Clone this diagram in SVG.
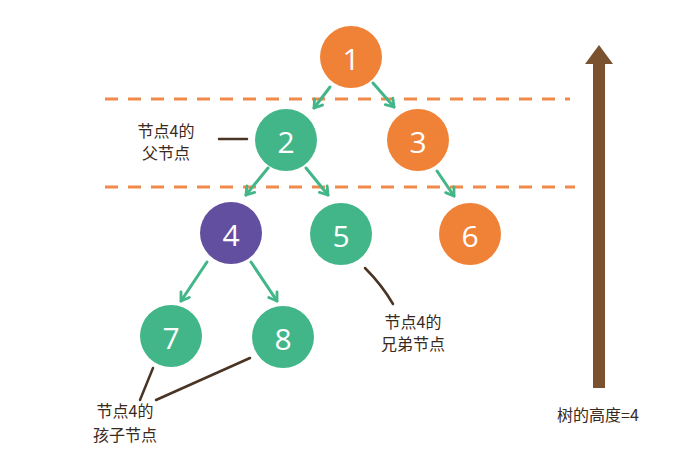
<svg xmlns="http://www.w3.org/2000/svg" width="678" height="459" viewBox="0 0 678 459">
<style>
.o{fill:#f08237}
.g{fill:#42b688}
.p{fill:#634f9f}
.num{font-family:"Open Sans","Liberation Sans",sans-serif;font-size:30px;fill:#fff;text-anchor:middle;dominant-baseline:central}
.lab{font-family:"Noto Sans CJK SC","Noto Sans",sans-serif;font-size:16px;fill:#3a2a1e;text-anchor:middle}
.dash{stroke:#f08a4b;stroke-width:3;stroke-dasharray:13 10;fill:none}
.arr{stroke:#42b688;stroke-width:3;fill:none;stroke-linecap:round;marker-end:url(#ah)}
.ln{stroke:#4a3424;stroke-width:2.5;fill:none;stroke-linecap:round}
</style>
<defs>
<marker id="ah" viewBox="0 0 12 12" refX="10" refY="6" markerWidth="10" markerHeight="10" orient="auto" markerUnits="userSpaceOnUse" overflow="visible">
<path d="M1,0 L10,6 L1,12" fill="none" stroke="#42b688" stroke-width="3.4" stroke-linecap="round" stroke-linejoin="round"/>
</marker>
</defs>
<rect width="678" height="459" fill="#fff"/>
<g id="levels">
<line class="dash" x1="105" y1="99" x2="570" y2="99"/>
<line class="dash" x1="105" y1="187" x2="575" y2="187"/>
</g>
<g id="connectors">
<line class="arr" x1="330" y1="87" x2="314" y2="108"/>
<line class="arr" x1="373" y1="83" x2="394" y2="107"/>
<line class="arr" x1="268" y1="168" x2="246" y2="195"/>
<line class="arr" x1="306" y1="168" x2="328" y2="195"/>
<line class="arr" x1="437" y1="171" x2="454" y2="196"/>
<line class="arr" x1="207" y1="262" x2="181" y2="301"/>
<line class="arr" x1="251" y1="262" x2="277" y2="301"/>
<line class="ln" x1="219" y1="139" x2="247" y2="139"/>
<path class="ln" d="M365,268 Q382,285 393,304"/>
<line class="ln" x1="153" y1="368" x2="140" y2="400"/>
<line class="ln" x1="250" y1="358" x2="156" y2="400"/>
</g>
<g id="node1"><circle class="o" cx="351" cy="57" r="31"/><text class="num" x="351" y="58">1</text></g>
<g id="node2"><circle class="g" cx="286" cy="140" r="31"/><text class="num" x="286" y="141">2</text></g>
<g id="node3"><circle class="o" cx="418" cy="140" r="31"/><text class="num" x="418" y="141">3</text></g>
<g id="node4"><circle class="p" cx="231" cy="233" r="31"/><text class="num" x="231" y="234">4</text></g>
<g id="node5"><circle class="g" cx="341" cy="234" r="31"/><text class="num" x="341" y="235">5</text></g>
<g id="node6"><circle class="o" cx="470" cy="234" r="31"/><text class="num" x="470" y="235">6</text></g>
<g id="node7"><circle class="g" cx="171" cy="336" r="31"/><text class="num" x="171" y="337">7</text></g>
<g id="node8"><circle class="g" cx="283" cy="337" r="31"/><text class="num" x="283" y="338">8</text></g>
<g id="label-parent"><text class="lab" x="166" y="137">节点4的</text><text class="lab" x="166" y="159">父节点</text></g>
<g id="label-sibling"><text class="lab" x="413" y="328">节点4的</text><text class="lab" x="413" y="350">兄弟节点</text></g>
<g id="label-child"><text class="lab" x="125" y="417">节点4的</text><text class="lab" x="125" y="441">孩子节点</text></g>
<g id="height">
<path d="M593,388 L593,64 L585,64 L599,45 L613,64 L605,64 L605,388 Z" fill="#7a5230"/>
<text class="lab" x="598" y="421">树的高度=4</text>
</g>
</svg>
